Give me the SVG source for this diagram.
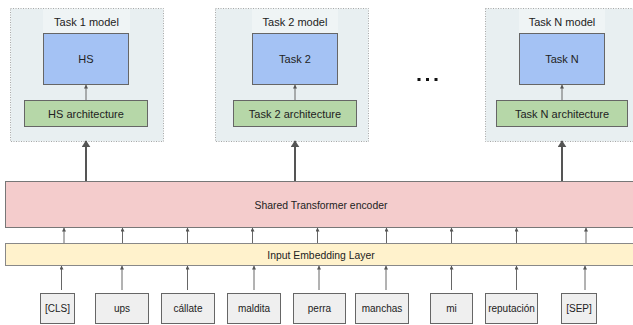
<svg xmlns="http://www.w3.org/2000/svg" width="633" height="325" viewBox="0 0 633 325">
<defs>
<style>
text{font-family:"Liberation Sans",Arial,sans-serif;font-size:11px;fill:#222;text-anchor:middle;dominant-baseline:central}
.m{font-size:10.4px}
.s{font-size:10px}
.cont{fill:#e8eff1;stroke:#a8a8a8;stroke-width:1;stroke-dasharray:1 1.5}
.lab{fill:#eff4f5}
.hs{fill:#a4c2f4;stroke:#666;stroke-width:1}
.arch{fill:#b6d7a8;stroke:#666;stroke-width:1}
.enc{fill:#f4cccc;stroke:#777;stroke-width:1}
.emb{fill:#fff2cc;stroke:#888;stroke-width:1}
.tok{fill:#efefef;stroke:#666;stroke-width:1}
.a{stroke:#666;stroke-width:1;fill:none;marker-end:url(#ms)}
.A{stroke:#555;stroke-width:2;fill:none;marker-end:url(#ml)}
</style>
<marker id="ms" viewBox="0 0 10 10" refX="9" refY="5" markerWidth="4" markerHeight="4" orient="auto" markerUnits="userSpaceOnUse"><path d="M0,0 L10,5 L0,10 z" fill="#555"/></marker>
<marker id="ml" viewBox="0 0 10 10" refX="9" refY="5" markerWidth="7" markerHeight="9" orient="auto" markerUnits="userSpaceOnUse" preserveAspectRatio="none"><path d="M0,0 L10,5 L0,10 z" fill="#555"/></marker>
</defs>
<g id="task1">
<rect class="cont" x="10.5" y="8.5" width="153" height="133"/>
<rect class="lab" x="43" y="9" width="87" height="24"/>
<text x="86.5" y="22">Task 1 model</text>
<rect class="hs" x="43.5" y="33.5" width="85" height="51"/>
<text x="86" y="59">HS</text>
<rect class="arch" x="24.5" y="100.5" width="123" height="26"/>
<text x="86" y="114">HS architecture</text>
</g>
<g id="task2">
<rect class="cont" x="215.5" y="8.5" width="153" height="133"/>
<rect class="lab" x="252" y="9" width="86" height="24"/>
<text x="295" y="22">Task 2 model</text>
<rect class="hs" x="252.5" y="33.5" width="85" height="51"/>
<text x="295" y="59">Task 2</text>
<rect class="arch" x="233.5" y="100.5" width="123" height="26"/>
<text x="295" y="114">Task 2 architecture</text>
</g>
<g id="taskN">
<rect class="cont" x="485.5" y="8.5" width="160" height="133"/>
<rect class="lab" x="519" y="9" width="86" height="24"/>
<text x="562" y="22">Task N model</text>
<rect class="hs" x="519.5" y="33.5" width="85" height="51"/>
<text x="562" y="59">Task N</text>
<rect class="arch" x="496.5" y="100.5" width="131" height="26"/>
<text x="562" y="114">Task N architecture</text>
</g>
<g id="dots" fill="#111">
<rect x="417.5" y="78" width="3" height="3"/>
<rect x="426" y="78" width="3" height="3"/>
<rect x="434.5" y="78" width="3" height="3"/>
</g>
<g id="encoder">
<rect class="enc" x="5.5" y="181.5" width="640" height="46"/>
<text class="m" x="321" y="205">Shared Transformer encoder</text>
</g>
<g id="embedding">
<rect class="emb" x="5.5" y="243.5" width="640" height="22"/>
<text class="m" x="321" y="255">Input Embedding Layer</text>
</g>
<g id="tokens">
<g id="t-cls"><rect class="tok" x="40.5" y="293.5" width="34" height="30"/><text class="s" x="57.5" y="308.5">[CLS]</text></g>
<g id="t-ups"><rect class="tok" x="95.5" y="293.5" width="53" height="30"/><text class="s" x="122" y="308.5">ups</text></g>
<g id="t-callate"><rect class="tok" x="161.5" y="293.5" width="53" height="30"/><text class="s" x="188" y="308.5">cállate</text></g>
<g id="t-maldita"><rect class="tok" x="227.5" y="293.5" width="53" height="30"/><text class="s" x="254" y="308.5">maldita</text></g>
<g id="t-perra"><rect class="tok" x="293.5" y="293.5" width="52" height="30"/><text class="s" x="319.5" y="308.5">perra</text></g>
<g id="t-manchas"><rect class="tok" x="355.5" y="293.5" width="53" height="30"/><text class="s" x="382" y="308.5">manchas</text></g>
<g id="t-mi"><rect class="tok" x="430.5" y="293.5" width="42" height="30"/><text class="s" x="451.5" y="308.5">mi</text></g>
<g id="t-reputacion"><rect class="tok" x="485.5" y="293.5" width="52" height="30"/><text class="s" x="511.5" y="308.5">reputación</text></g>
<g id="t-sep"><rect class="tok" x="561.5" y="293.5" width="35" height="30"/><text class="s" x="579" y="308.5">[SEP]</text></g>
</g>
<g id="connectors">
<line class="a" x1="86" y1="100" x2="86" y2="85"/>
<line class="a" x1="295" y1="100" x2="295" y2="85"/>
<line class="a" x1="562" y1="100" x2="562" y2="85"/>
<line class="A" x1="86" y1="181" x2="86" y2="141"/>
<line class="A" x1="295" y1="181" x2="295" y2="141"/>
<line class="A" x1="562" y1="181" x2="562" y2="141"/>
<line class="a" x1="64" y1="243" x2="64" y2="228"/>
<line class="a" x1="122.5" y1="243" x2="122.5" y2="228"/>
<line class="a" x1="187.5" y1="243" x2="187.5" y2="228"/>
<line class="a" x1="252.5" y1="243" x2="252.5" y2="228"/>
<line class="a" x1="317.5" y1="243" x2="317.5" y2="228"/>
<line class="a" x1="386.5" y1="243" x2="386.5" y2="228"/>
<line class="a" x1="451.5" y1="243" x2="451.5" y2="228"/>
<line class="a" x1="516.5" y1="243" x2="516.5" y2="228"/>
<line class="a" x1="586" y1="243" x2="586" y2="228"/>
<line class="a" x1="61.5" y1="290" x2="61.5" y2="266"/>
<line class="a" x1="122" y1="290" x2="122" y2="266"/>
<line class="a" x1="187.5" y1="290" x2="187.5" y2="266"/>
<line class="a" x1="254" y1="290" x2="254" y2="266"/>
<line class="a" x1="319" y1="290" x2="319" y2="266"/>
<line class="a" x1="386" y1="290" x2="386" y2="266"/>
<line class="a" x1="451.5" y1="290" x2="451.5" y2="266"/>
<line class="a" x1="516.5" y1="290" x2="516.5" y2="266"/>
<line class="a" x1="585" y1="290" x2="585" y2="266"/>
</g>
</svg>
